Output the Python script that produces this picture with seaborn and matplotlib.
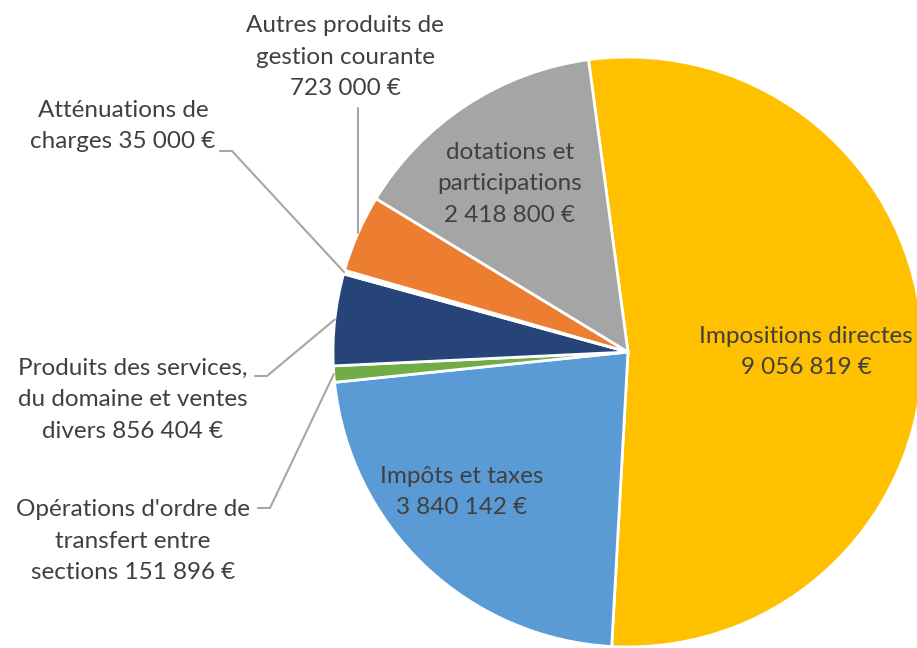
import numpy as np
import matplotlib
matplotlib.use("Agg")
import matplotlib.pyplot as plt
import seaborn as sns

sns.set_theme(style="white")
plt.rcParams['font.family'] = ['Lato', 'DejaVu Sans']

# data, clockwise from the top
labels = ["Impositions directes", "Impôts et taxes",
          "Opérations d'ordre de\ntransfert entre\nsections",
          "Produits des services,\ndu domaine et ventes\ndivers",
          "Atténuations de\ncharges", "Autres produits de\ngestion courante\n",
          "dotations et\nparticipations"]
values = [9056819, 3840142, 151896, 856404, 35000, 723000, 2418800]
# the tiny "Atténuations" slice is lost in the white gap in the original
colors = ["#FFC000", "#5B9BD5", "#70AD47", "#264478", "#FFFFFF", "#ED7D31", "#A5A5A5"]

def euro(v):
    return f"{v:,}".replace(",", "\u202f") + "\u202f€"

W, H = 917, 648
fig = plt.figure(figsize=(W / 100, H / 100), dpi=100)
ax = fig.add_axes([0, 0, 1, 1])

cx, cy, r = 628, H - 352, 295
wedges, _ = ax.pie(values, colors=colors, startangle=97.7, counterclock=False,
                   center=(cx, cy), radius=r, frame=True,
                   wedgeprops=dict(edgecolor='white', linewidth=2))
ax.set_xlim(0, W)
ax.set_ylim(0, H)
ax.axis('off')

txt = dict(color='#404040', fontsize=17.5, ha='center', va='center', linespacing=1.6)

# labels inside slices
inside = {0: (806, 352), 1: (462, 492), 6: (510, 184)}
for i, (px, py) in inside.items():
    ax.text(px, H - py, labels[i] + "\n" + euro(values[i]), **txt)

# labels outside with leader lines: (text centre, start of leader)
outside = {
    5: ((345, 57), None),
    4: ((123, 126), (220, 151)),
    3: ((133, 400), (255, 376)),
    2: ((133, 541), (258, 508)),
}
for i, ((px, py), lead) in outside.items():
    sep = "" if labels[i].endswith("\n") else " "
    ax.text(px, H - py, labels[i] + sep + euro(values[i]), **txt)
    w = wedges[i]
    mid = np.deg2rad((w.theta1 + w.theta2) / 2)
    ex, ey = cx + r * np.cos(mid), cy + r * np.sin(mid)
    if lead is None:
        ax.plot([ex, ex], [H - 108, ey], color='#A6A6A6', lw=1.5)
    else:
        lx, ly = lead
        ax.plot([lx, lx + 12, ex], [H - ly, H - ly, ey], color='#A6A6A6', lw=1.5)

fig.savefig("out.png", dpi=100)
